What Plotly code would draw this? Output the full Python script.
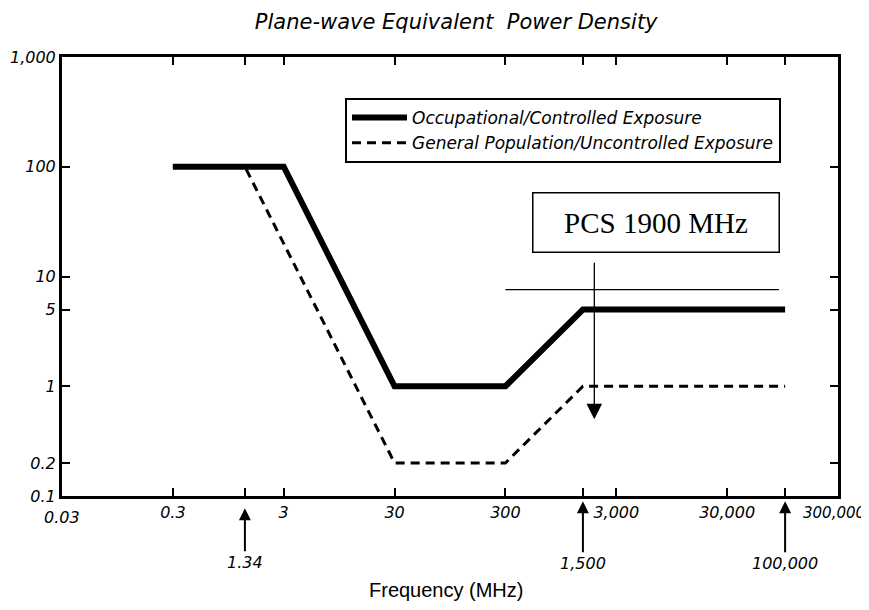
import numpy as np
import plotly.graph_objects as go

# ---- data ----
occ_freq = [0.3, 3, 30, 300, 1500, 100000]
occ_pd = [100, 100, 1, 1, 5, 5]
gen_freq = [0.3, 1.34, 30, 300, 1500, 100000]
gen_pd = [100, 100, 0.2, 0.2, 1, 1]

x_tickvals = [0.3, 1.34, 3, 30, 300, 1500, 3000, 30000, 100000, 300000]
x_ticktext = ["0.3", "", "3", "30", "300", "", "3,000", "30,000", "", ""]
y_tickvals = [0.1, 0.2, 1, 5, 10, 100, 1000]
y_ticktext = ["0.1", "0.2", "1", "5", "10", "100", "1,000"]

marked_freqs = [1.34, 1500, 100000]
marked_labels = ["1.34", "1,500", "100,000"]

pcs_freq = 1900
pcs_level = 0.5
pcs_ref_level = 7.6
pcs_ref_span = [300, 88000]

x_min, x_max = 0.03, 300000
y_min, y_max = 0.1, 1000

FONT = "Liberation Sans, Arial, sans-serif"
WIDE = "DejaVu Sans, Verdana, sans-serif"
ital = dict(family=WIDE, size=16, color="black", style="italic")

fig = go.Figure()
fig.add_trace(go.Scatter(
    x=gen_freq, y=gen_pd, mode="lines",
    name="General Population/Uncontrolled Exposure",
    line=dict(color="black", width=3, dash="9px,6px"),
))
fig.add_trace(go.Scatter(
    x=occ_freq, y=occ_pd, mode="lines",
    name="Occupational/Controlled Exposure",
    line=dict(color="black", width=6),
))

axis_common = dict(
    showline=True, linecolor="black", linewidth=3, mirror="ticks",
    ticks="inside", ticklen=8, tickwidth=2, tickcolor="black",
    showgrid=False, zeroline=False, tickfont=ital, automargin=False,
    ticklabeloverflow="allow",
)
fig.update_xaxes(type="log", range=[np.log10(x_min), np.log10(x_max)],
                 tickmode="array", tickvals=x_tickvals, ticktext=x_ticktext,
                 **axis_common)
fig.update_yaxes(type="log", range=[np.log10(y_min), np.log10(y_max)],
                 tickmode="array", tickvals=y_tickvals, ticktext=y_ticktext,
                 **axis_common)

annotations = []
# end labels of the x axis, placed by hand to stay inside the page
annotations.append(dict(x=np.log10(x_min), y=-0.05, xref="x", yref="paper",
                        text="0.03", showarrow=False, font=ital,
                        xanchor="center", yanchor="middle"))
annotations.append(dict(x=np.log10(x_max), y=-0.038, xref="x", yref="paper",
                        text="300,000", showarrow=False, xshift=-4,
                        font=dict(family=WIDE, size=15, color="black", style="italic"),
                        xanchor="center", yanchor="middle"))
# arrows marking breakpoints
for f, lab in zip(marked_freqs, marked_labels):
    head = -0.028 if f < 10 else -0.012
    ay = 54 if f < 10 else 62
    annotations.append(dict(x=np.log10(f), y=head, xref="x", yref="paper",
                            text=lab, showarrow=True, ax=0, ay=ay,
                            arrowhead=2, arrowsize=1.2, arrowwidth=2,
                            arrowcolor="black", font=ital))
# PCS box
annotations.append(dict(x=0.7655, y=0.622, xref="paper", yref="paper",
                        text="PCS 1900 MHz", showarrow=False,
                        font=dict(family="Liberation Serif, Times New Roman, serif",
                                  size=29, color="black"),
                        width=243, height=56, bordercolor="black",
                        borderwidth=1.5, bgcolor="white",
                        xanchor="center", yanchor="middle"))
# PCS arrow
annotations.append(dict(x=np.log10(pcs_freq), y=np.log10(pcs_level),
                        xref="x", yref="y", text="", showarrow=True,
                        ax=0, ay=-158, arrowhead=2, arrowsize=2.4,
                        arrowwidth=1.3, arrowcolor="black"))
# axis title
annotations.append(dict(x=0.495, y=-0.214, xref="paper", yref="paper",
                        text="Frequency (MHz)", showarrow=False,
                        font=dict(family=FONT, size=20, color="black"),
                        xanchor="center", yanchor="middle"))

fig.add_shape(type="line", xref="x", yref="y",
              x0=pcs_ref_span[0], x1=pcs_ref_span[1],
              y0=pcs_ref_level, y1=pcs_ref_level,
              line=dict(color="black", width=1.2))

# page body adds an 8px offset; size and margins compensate for it
fig.update_layout(
    width=861, height=602,
    margin=dict(l=54, r=31, t=49, b=114),
    paper_bgcolor="white", plot_bgcolor="white",
    title=dict(text="Plane-wave Equivalent  Power Density",
               x=0.508, xref="paper", xanchor="center",
               y=1 - 14 / 602, yref="container", yanchor="middle",
               font=dict(family=WIDE, size=21, color="black", style="italic")),
    legend=dict(x=0.3647, y=0.9066, xanchor="left", yanchor="top",
                bgcolor="white", bordercolor="black", borderwidth=2,
                font=dict(family=WIDE, size=17, color="black", style="italic"),
                itemwidth=55, traceorder="reversed"),
    annotations=annotations,
    showlegend=True,
)

fig.write_html("out.html")
